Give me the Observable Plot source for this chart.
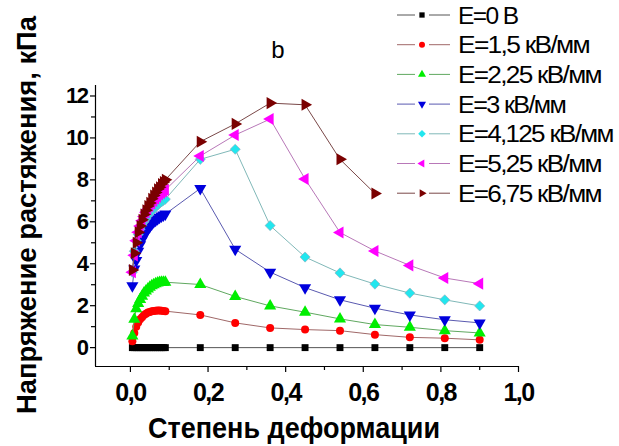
<!DOCTYPE html>
<html><head><meta charset="utf-8">
<script src="https://cdn.jsdelivr.net/npm/d3@7"></script>
<script src="https://cdn.jsdelivr.net/npm/@observablehq/plot@0.6"></script>
<style>
body{margin:0;background:#fff;}
#chart{position:relative;width:619px;height:446px;overflow:hidden;}
</style></head>
<body><div id="chart"></div>
<script>
// ---- data ----
const strainDense = [0.005,0.01,0.015,0.02,0.025,0.03,0.035,0.04,0.045,0.05,0.055,0.06,0.065,0.07,0.075,0.08,0.085,0.09];
const strainTail = [0.18,0.27,0.36,0.45,0.54,0.63,0.72,0.81,0.90];

const seriesNames = ["E=0 В","E=1,5 кВ/мм","E=2,25 кВ/мм","E=3 кВ/мм","E=4,125 кВ/мм","E=5,25 кВ/мм","E=6,75 кВ/мм"];

const stress0 = [0,0,0,0,0,0,0,0,0,0,0,0,0,0,0,0,0,0, 0,0,0,0,0,0,0,0,0];
const stress15 = [0.3,0.7,1.0,1.2,1.35,1.45,1.55,1.62,1.67,1.7,1.73,1.75,1.76,1.77,1.77,1.76,1.75,1.74, 1.56,1.18,0.94,0.86,0.81,0.62,0.49,0.45,0.37];
const stress225 = [0.55,1.35,1.85,2.1,2.3,2.45,2.6,2.7,2.8,2.88,2.95,3.0,3.05,3.08,3.1,3.12,3.12,3.12, 3.01,2.44,1.99,1.69,1.37,1.10,0.97,0.81,0.70];
const stress3 = [2.95,3.75,4.15,4.6,4.9,5.15,5.35,5.5,5.65,5.78,5.9,6.0,6.08,6.15,6.22,6.28,6.33,6.37, 7.59,4.69,3.60,2.86,2.28,1.88,1.56,1.33,1.18];
const stress4125 = [3.6,4.6,5.1,5.4,5.65,5.85,6.0,6.15,6.3,6.42,6.52,6.62,6.72,6.8,6.88,6.95,7.02,7.08, 8.98,9.46,5.82,4.32,3.56,3.03,2.60,2.28,1.99];
const stress525 = [3.6,4.4,5.1,5.5,5.8,6.05,6.25,6.45,6.6,6.75,6.88,7.0,7.1,7.2,7.3,7.38,7.45,7.52, 9.14,10.14,10.9,8.04,5.49,4.61,3.92,3.32,3.05];
const stress675 = [3.7,4.5,5.0,5.5,5.8,6.1,6.35,6.55,6.75,6.9,7.1,7.25,7.4,7.55,7.65,7.8,7.9,8.0, 9.82,10.67,11.66,11.58,8.98,7.35];

const xTicks = [0,0.2,0.4,0.6,0.8,1.0];
const xMinorTicks = [0.1,0.3,0.5,0.7,0.9];
const yTicks = [0,2,4,6,8,10,12];
const yMinorTicks = [1,3,5,7,9,11];
const xDomain = [-0.09,1.0];
const yDomain = [-0.9,12.5];

const xTitle = "Степень деформации";
const yTitle = "Напряжение растяжения, кПа";
const panelLabel = "b";

// ---- styles ----
const markerColors = ["#000000","#ff0000","#00ee00","#0000dd","#22e6ee","#ff00ff","#7a0000"];
const lineColors = ["#555555","#a06868","#60a860","#5a5ab0","#80b8b8","#b878b8","#7a4848"];

function tri(rot){
  return {draw(ctx,size){
    const y = -Math.sqrt(size/(Math.sqrt(3)*3));
    const pts = [[0,y*2],[-Math.sqrt(3)*y,-y],[Math.sqrt(3)*y,-y]].map(([a,b])=>{
      const c=Math.cos(rot), s=Math.sin(rot);
      return [a*c-b*s, a*s+b*c];
    });
    ctx.moveTo(pts[0][0],pts[0][1]);ctx.lineTo(pts[1][0],pts[1][1]);ctx.lineTo(pts[2][0],pts[2][1]);ctx.closePath();
  }};
}
const diamondSq = {draw(ctx,size){
  const d = Math.sqrt(size)*0.72;
  ctx.moveTo(0,-d);ctx.lineTo(d,0);ctx.lineTo(0,d);ctx.lineTo(-d,0);ctx.closePath();
}};
const symbols = [d3.symbolSquare, d3.symbolCircle, tri(0), tri(Math.PI), diamondSq, tri(-Math.PI/2), tri(Math.PI/2)];
const radii = [3.9,4,4.5,4.5,4.0,4.5,4.5];

const allY = [stress0,stress15,stress225,stress3,stress4125,stress525,stress675];
const strainAll = strainDense.concat(strainTail);
const tables = allY.map(ys => ys.map((v,i)=>({x: strainAll[i], y: v})));

const marks = [];
tables.forEach((t,i)=>{
  marks.push(Plot.line(t,{x:"x",y:"y",stroke:lineColors[i],strokeWidth:1}));
  marks.push(Plot.dot(t,{x:"x",y:"y",fill:markerColors[i],stroke:i===4?"#9ab":"none",strokeWidth:0.6,symbol:symbols[i],r:radii[i]}));
});

const fmtX = d => d.toFixed(1).replace(".",",");
const tickFont = "'Liberation Sans',Arial,sans-serif";

const chart = Plot.plot({
  width:619, height:446,
  marginLeft:95, marginRight:101, marginTop:85, marginBottom:80,
  x:{domain:xDomain},
  y:{domain:yDomain},
  style:{fontFamily:tickFont, background:"white", color:"black"},
  marks:[
    Plot.ruleX([xDomain[0]],{stroke:"black",strokeWidth:1.2}),
    Plot.ruleY([yDomain[0]],{stroke:"black",strokeWidth:1.2}),
    Plot.axisX(xTicks,{tickSize:6,tickPadding:11,tickFormat:fmtX,fontSize:25,fontWeight:"bold",label:null,strokeWidth:1.2}),
    Plot.axisX(xMinorTicks,{tickSize:4,tickFormat:()=>"",label:null,strokeWidth:1.2}),
    Plot.axisY(yTicks,{tickSize:5,tickPadding:3,fontSize:22,fontWeight:"bold",label:null,strokeWidth:1.2}),
    Plot.axisY(yMinorTicks,{tickSize:4,tickFormat:()=>"",label:null,strokeWidth:1.2}),
    ...marks
  ]
});
document.getElementById("chart").appendChild(chart);

const svg = d3.select(chart);
svg.selectAll("text").attr("letter-spacing","-1.5");

// titles
svg.append("text").text(xTitle)
  .attr("x",294).attr("y",438).attr("text-anchor","middle")
  .attr("font-family",tickFont).attr("font-weight","bold").attr("font-size",30)
  .attr("textLength",292).attr("lengthAdjust","spacingAndGlyphs");
svg.append("text").text(yTitle)
  .attr("transform","translate(36,215) rotate(-90)").attr("text-anchor","middle")
  .attr("font-family",tickFont).attr("font-weight","bold").attr("font-size",28)
  .attr("textLength",398).attr("lengthAdjust","spacingAndGlyphs");
svg.append("text").text(panelLabel)
  .attr("x",278).attr("y",58).attr("text-anchor","middle")
  .attr("font-family","'Liberation Sans',Arial,sans-serif").attr("font-size",24);

// legend
const lg = svg.append("g");
seriesNames.forEach((name,i)=>{
  const y = 15 + 29.7*i;
  lg.append("line").attr("x1",397).attr("x2",415).attr("y1",y).attr("y2",y).attr("stroke",lineColors[i]).attr("stroke-width",1);
  lg.append("line").attr("x1",429).attr("x2",450).attr("y1",y).attr("y2",y).attr("stroke",lineColors[i]).attr("stroke-width",1);
  lg.append("path").attr("d",d3.symbol(symbols[i], 28)()).attr("transform",`translate(422,${y})`).attr("fill",markerColors[i]);
  lg.append("text").text(name).attr("x",458).attr("y",y+8.5).attr("text-anchor","start")
    .attr("font-family","'Liberation Sans',Arial,sans-serif")
    .attr("font-size",23).attr("letter-spacing","-1.5").attr("fill","black")
    .attr("textLength", name.length*11.9).attr("lengthAdjust","spacingAndGlyphs");
});
</script></body></html>
